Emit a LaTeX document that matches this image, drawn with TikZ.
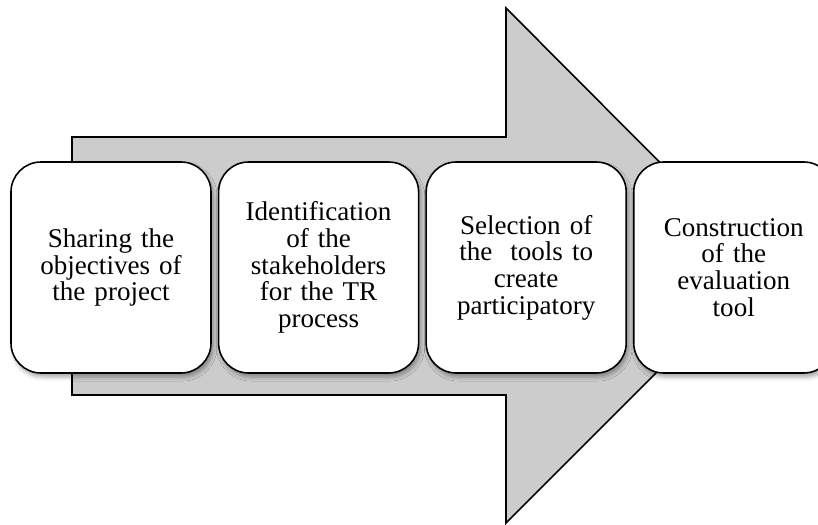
\documentclass[tikz,border=0pt]{standalone}
\usepackage{fontspec}
\setmainfont{Liberation Serif}
\usepackage{tikz}
\usetikzlibrary{positioning,shadows.blur}
\definecolor{arrowgrey}{RGB}{204,204,204}

\begin{document}
\begin{tikzpicture}[x=0.2mm,y=0.2mm,node distance=1.2mm,
        stage/.style={draw,fill=white,line width=0.9pt,rounded corners=6mm,
            minimum width=40mm,minimum height=42.2mm,text width=37mm,align=center,
            font=\fontsize{15.4}{15.2}\selectfont,
            blur shadow={shadow xshift=0.4mm,shadow yshift=-0.8mm,shadow blur radius=0.8mm,shadow opacity=35}}]
            \useasboundingbox (0,0) rectangle (818,524);
            \clip (0,0) rectangle (818,524);
            % big arrow behind the steps
            \filldraw[fill=arrowgrey,line width=0.9pt,line join=miter] (72,129) -- (72,387) -- (506,387) -- (506,516) -- (763,258) -- (506,1) -- (506,129) -- cycle;
            \node[stage] (share) at (111,256.5) {Sharing the\\objectives of\\the project};
            \node[stage,right=of share] (ident) {Identification\\of the\\stakeholders\\for the TR\\process};
            \node[stage,right=of ident] (select) {Selection of\\the\ \ tools to\\create\\participatory};
            \node[stage,right=of select] (build) {Construction\\of the\\evaluation\\tool};
        \end{tikzpicture}
\end{document}
